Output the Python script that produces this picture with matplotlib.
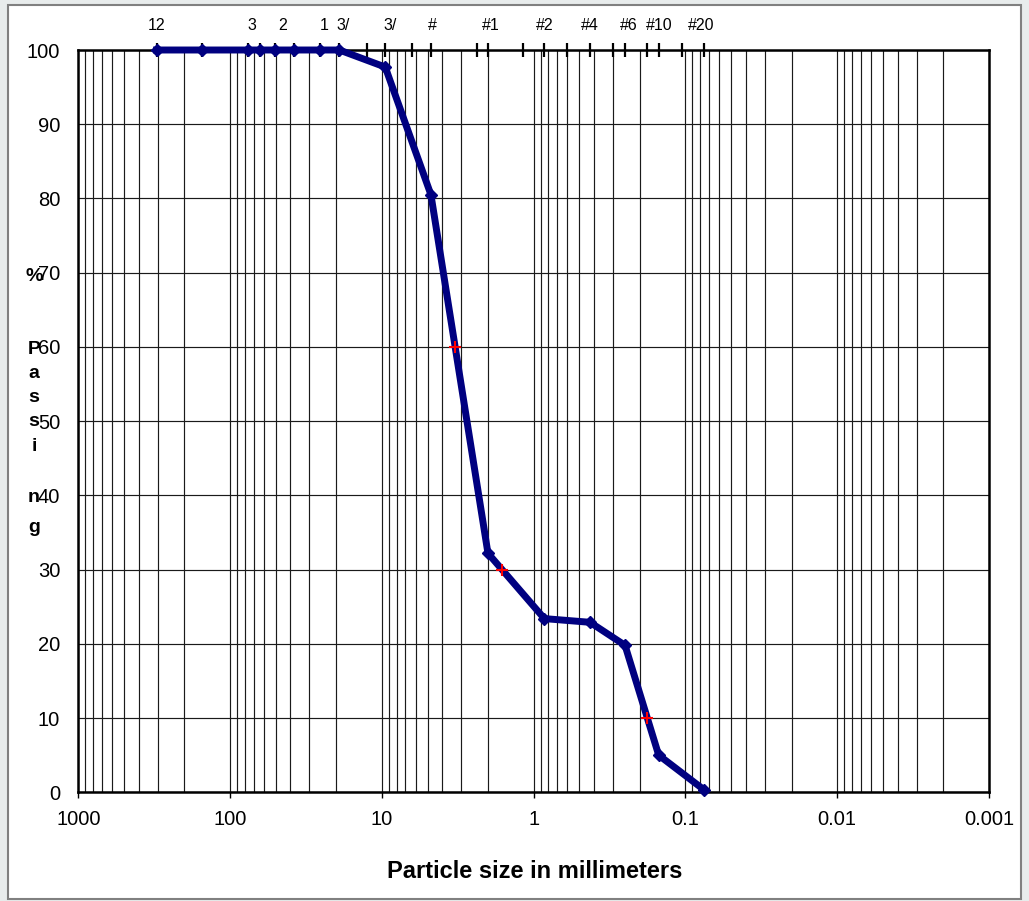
import matplotlib
matplotlib.use("Agg")
import matplotlib.pyplot as plt
from matplotlib.patches import Rectangle
import numpy as np

plt.rcParams['font.family'] = ['Liberation Sans', 'DejaVu Sans']

# ---- data: grain size distribution (mm, % passing)
sizes_mm = [304.8, 152.4, 76.2, 63.5, 50.8, 38.1, 25.4, 19.05, 9.5, 4.75,
            2.0, 0.85, 0.425, 0.25, 0.15, 0.075]
passing = [100, 100, 100, 100, 100, 100, 100, 100, 97.7, 80.5,
           32.2, 23.4, 22.9, 19.8, 5.0, 0.3]

# D60 / D30 / D10 points
d_sizes = [3.30, 1.62, 0.178]
d_pass = [60, 30, 10]

# sieve tick marks along the top
sieve_sizes = [304.8, 152.4, 76.2, 63.5, 50.8, 38.1, 25.4, 19.05, 12.5, 9.5,
               6.3, 4.75, 2.36, 2.0, 1.18, 0.85, 0.6, 0.425, 0.3, 0.25,
               0.18, 0.15, 0.106, 0.075]

# sieve labels (as shown, truncated)
label_sizes = [304.8, 76.2, 50.8, 25.4, 19.05, 9.5, 4.75, 2.0, 0.85, 0.425,
               0.25, 0.15, 0.075]
label_texts = ['12', '3', '2', '1', '3/', '3/', '#', '#1', '#2', '#4',
               '#6', '#10', '#20']
label_dx_px = [0, 3.5, 7.5, 3.5, 4, 5, 1.5, 3, 0.5, 0, 4, 1, -3.5]

x_ticks = [1000, 100, 10, 1, 0.1, 0.01, 0.001]
x_tick_labels = ['1000', '100', '10', '1', '0.1', '0.01', '0.001']
y_ticks = list(range(0, 101, 10))

# vertical axis title, one character per line (baseline pixel rows)
ylab_chars = ['%', 'P', 'a', 's', 's', 'i', 'n', 'g']
ylab_baseline_px = [281, 354, 378, 402, 426, 451, 502, 532]

W, H = 1029, 901
fig = plt.figure(figsize=(W / 100, H / 100), dpi=100)
fig.patch.set_facecolor('#e8ecec')
frame = Rectangle((8 / W, 1 - 899 / H), (1021 - 8) / W, (899 - 5) / H,
                  transform=fig.transFigure, facecolor='white',
                  edgecolor='#808080', linewidth=1.5, zorder=-10)
fig.add_artist(frame)

ax = fig.add_axes([78.3 / W, 1 - 792.3 / H, (989 - 78.3) / W, (792.3 - 50) / H])
ax.set_zorder(1)
ax.set_xscale('log')
ax.set_xlim(1000, 0.001)
ax.set_ylim(0, 100)

ax.set_xticks(x_ticks)
ax.set_xticklabels(x_tick_labels)
ax.xaxis.set_minor_locator(matplotlib.ticker.LogLocator(base=10, subs=np.arange(2, 10)))
ax.xaxis.set_minor_formatter(matplotlib.ticker.NullFormatter())
ax.set_yticks(y_ticks)

ax.tick_params(axis='x', which='major', length=4, width=1, pad=9, labelsize=14.5, direction='out')
ax.tick_params(axis='x', which='minor', length=0)
ax.tick_params(axis='y', length=0, pad=13, labelsize=14.5)

ax.grid(True, axis='x', which='both', color='#1a1a1a', linewidth=0.85)
ax.grid(True, axis='y', which='major', color='#1a1a1a', linewidth=0.85)
ax.set_axisbelow(True)
for sp in ax.spines.values():
    sp.set_linewidth(1.8)
    sp.set_color('black')

# sieve tick marks on top edge
ax.plot(sieve_sizes, [100] * len(sieve_sizes), linestyle='none', marker='|',
        markersize=10.5, markeredgewidth=1.6, color='black', clip_on=False, zorder=4)

# grading curve
ax.plot(sizes_mm, passing, color='#000080', linewidth=5, marker='D',
        markersize=6.5, markerfacecolor='#000080', markeredgecolor='#000080',
        clip_on=False, zorder=5, solid_joinstyle='round')

# D60/D30/D10
ax.plot(d_sizes, d_pass, linestyle='none', marker='+', markersize=9,
        markeredgewidth=1.5, color='red', zorder=6)

for s, t, dx in zip(label_sizes, label_texts, label_dx_px):
    ax.annotate(t, xy=(s, 100), xytext=(dx * 0.72, 24 * 0.72), textcoords='offset points',
                ha='center', va='center', fontsize=11.5, annotation_clip=False)

fig.text(535 / W, 1 - 871 / H, 'Particle size in millimeters', ha='center', va='center',
         fontsize=17, fontweight='bold')
for ch, yb in zip(ylab_chars, ylab_baseline_px):
    fig.text(34 / W, 1 - yb / H, ch, ha='center', va='baseline',
             fontsize=14, fontweight='bold', zorder=0)

fig.savefig('out.png', dpi=100)
